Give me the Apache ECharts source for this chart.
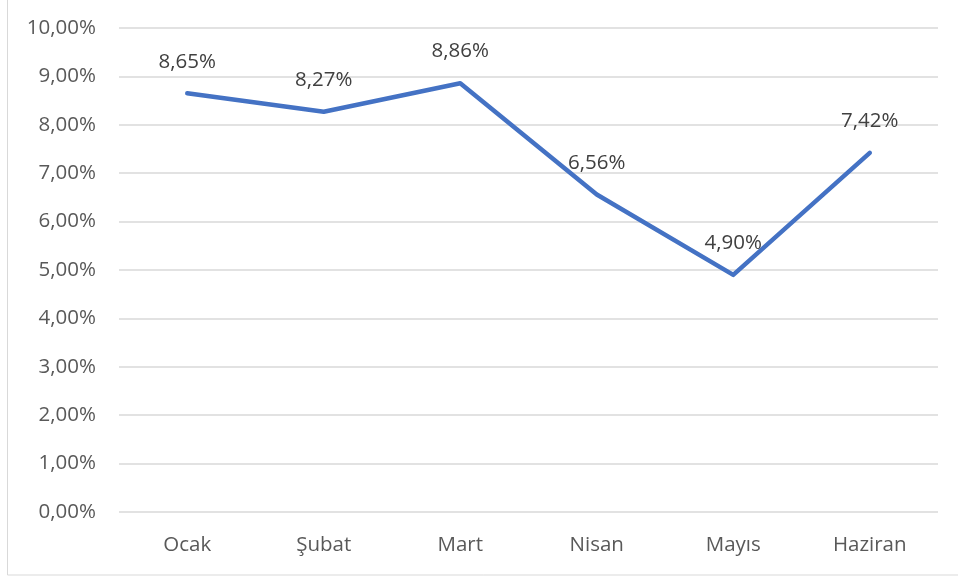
<!DOCTYPE html>
<html><head><meta charset="utf-8">
<script src="https://cdn.jsdelivr.net/npm/echarts@6/dist/echarts.min.js"></script>
<style>html,body{margin:0;padding:0;background:#fff}#c{width:958px;height:579px}</style>
</head><body><div id="c"></div>
<script>
const categories = ['Ocak', 'Şubat', 'Mart', 'Nisan', 'Mayıs', 'Haziran'];
const values = [8.65, 8.27, 8.86, 6.56, 4.90, 7.42];
const fmt = v => v.toFixed(2).replace('.', ',') + '%';
const chart = echarts.init(document.getElementById('c'));
const FONT = '"Open Sans", sans-serif';
chart.setOption({
  animation: false,
  backgroundColor: '#fff',
  graphic: [{type:'rect', shape:{x:7.5, y:-10, width:1000, height:585}, style:{fill:'none', stroke:'#d9d9d9', lineWidth:1}, silent:true}],
  grid: {left: 119, right: 20, top: 28, bottom: 67},
  xAxis: {
    type: 'category', data: categories, boundaryGap: true,
    axisLine: {show: false}, axisTick: {show: false},
    axisLabel: {color: '#595959', fontSize: 20.5, fontFamily: FONT, margin: 23}
  },
  yAxis: {
    type: 'value', min: 0, max: 10, interval: 1,
    axisLine: {show: false}, axisTick: {show: false},
    axisLabel: {color: '#595959', fontSize: 20.5, fontFamily: FONT, margin: 23, formatter: v => fmt(v)},
    splitLine: {lineStyle: {color: '#d9d9d9', width: 1.5}}
  },
  series: [{
    type: 'line', data: values, symbol: 'circle', symbolSize: 0.1, showSymbol: true,
    itemStyle: {color: '#4472C4'},
    lineStyle: {color: '#4472C4', width: 4.5, join: 'round', cap: 'round'},
    label: {show: true, position: 'top', distance: 21, color: '#404040', fontSize: 20.5, fontFamily: FONT, formatter: p => fmt(p.value)}
  }]
});
</script></body></html>
